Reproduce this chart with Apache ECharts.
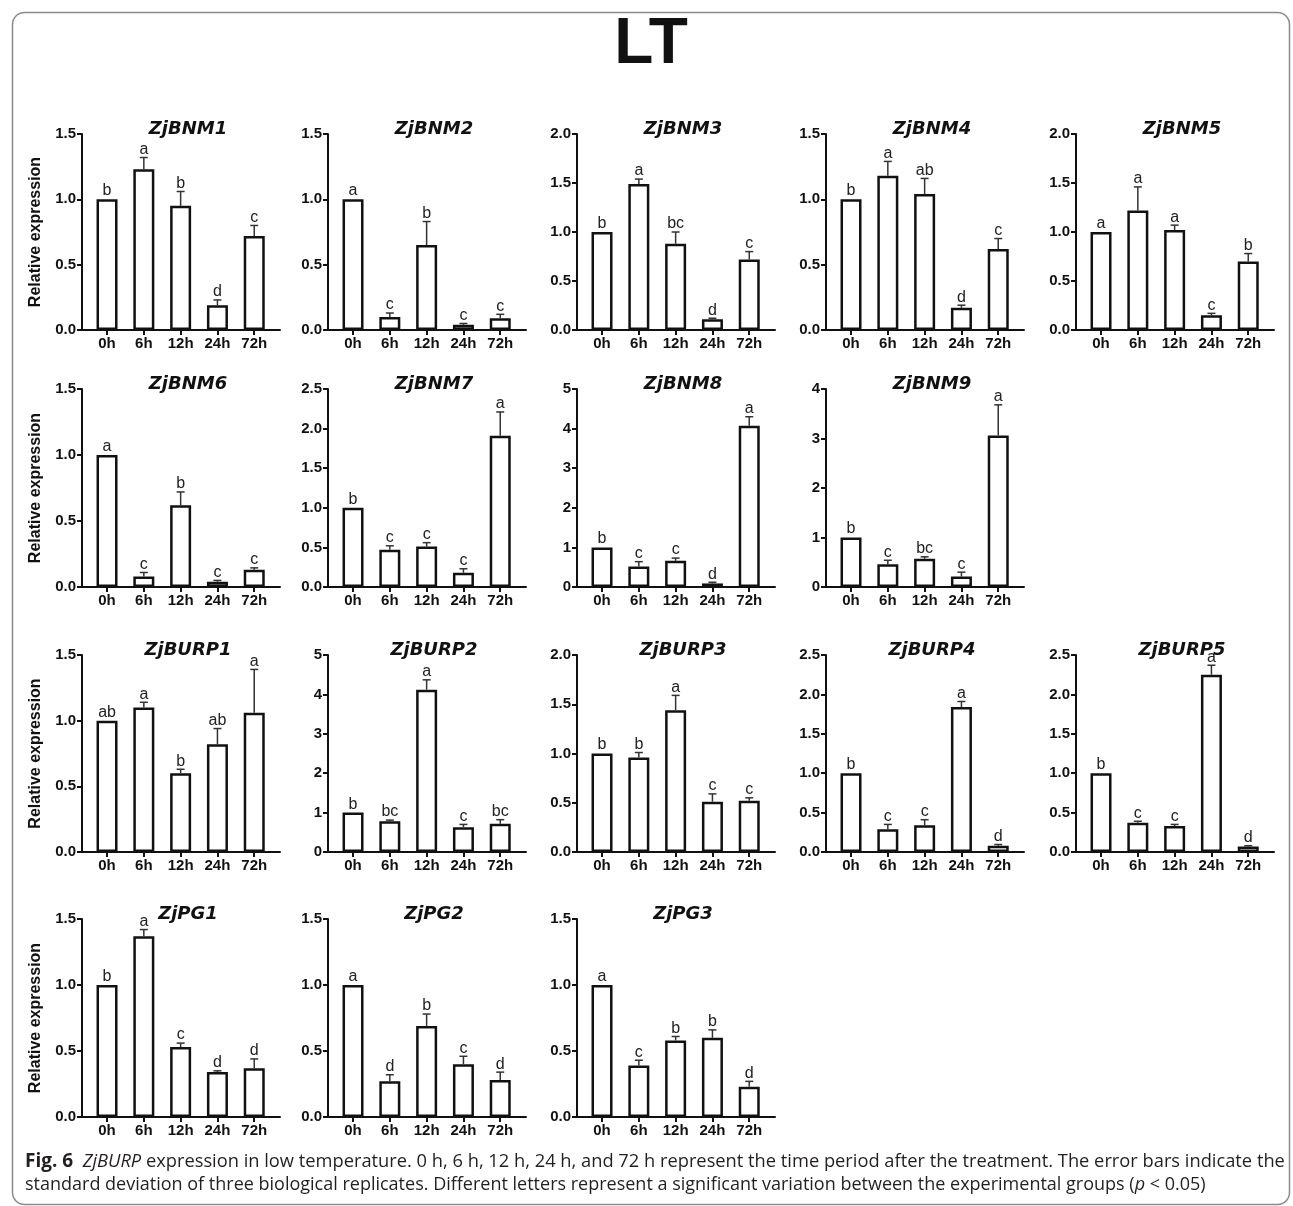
<!DOCTYPE html>
<html><head><meta charset="utf-8">
<script src="https://cdn.jsdelivr.net/npm/echarts@6/dist/echarts.min.js"></script>
<style>html,body{margin:0;padding:0;background:#fff}#c{width:1293px;height:1206px}</style>
</head><body><div id="c"></div>
<script>
// ---------------- DATA ----------------
const categories = ['0h', '6h', '12h', '24h', '72h'];
const genes = ['ZjBNM1','ZjBNM2','ZjBNM3','ZjBNM4','ZjBNM5','ZjBNM6','ZjBNM7','ZjBNM8','ZjBNM9',
               'ZjBURP1','ZjBURP2','ZjBURP3','ZjBURP4','ZjBURP5','ZjPG1','ZjPG2','ZjPG3'];

const mean_ZjBNM1 = [1.00, 1.23, 0.95, 0.19, 0.72];
const sd_ZjBNM1   = [0, 0.09, 0.11, 0.04, 0.08];
const let_ZjBNM1  = ['b', 'a', 'b', 'd', 'c'];

const mean_ZjBNM2 = [1.00, 0.10, 0.65, 0.04, 0.09];
const sd_ZjBNM2   = [0, 0.03, 0.18, 0.01, 0.03];
const let_ZjBNM2  = ['a', 'c', 'b', 'c', 'c'];

const mean_ZjBNM3 = [1.00, 1.49, 0.88, 0.11, 0.72];
const sd_ZjBNM3   = [0, 0.05, 0.12, 0.01, 0.08];
const let_ZjBNM3  = ['b', 'a', 'bc', 'd', 'c'];

const mean_ZjBNM4 = [1.00, 1.18, 1.04, 0.17, 0.62];
const sd_ZjBNM4   = [0, 0.11, 0.12, 0.02, 0.08];
const let_ZjBNM4  = ['b', 'a', 'ab', 'd', 'c'];

const mean_ZjBNM5 = [1.00, 1.22, 1.02, 0.15, 0.70];
const sd_ZjBNM5   = [0, 0.24, 0.05, 0.02, 0.08];
const let_ZjBNM5  = ['a', 'a', 'a', 'c', 'b'];

const mean_ZjBNM6 = [1.00, 0.08, 0.62, 0.04, 0.13];
const sd_ZjBNM6   = [0, 0.03, 0.10, 0.01, 0.015];
const let_ZjBNM6  = ['a', 'c', 'b', 'c', 'c'];

const mean_ZjBNM7 = [1.00, 0.47, 0.51, 0.18, 1.91];
const sd_ZjBNM7   = [0, 0.05, 0.05, 0.05, 0.30];
const let_ZjBNM7  = ['b', 'c', 'c', 'c', 'a'];

const mean_ZjBNM8 = [1.00, 0.52, 0.66, 0.09, 4.07];
const sd_ZjBNM8   = [0, 0.12, 0.07, 0.03, 0.23];
const let_ZjBNM8  = ['b', 'c', 'c', 'd', 'a'];

const mean_ZjBNM9 = [1.00, 0.46, 0.57, 0.21, 3.06];
const sd_ZjBNM9   = [0, 0.08, 0.04, 0.09, 0.62];
const let_ZjBNM9  = ['b', 'c', 'bc', 'c', 'a'];

const mean_ZjBURP1 = [1.00, 1.10, 0.60, 0.82, 1.06];
const sd_ZjBURP1   = [0, 0.04, 0.03, 0.12, 0.33];
const let_ZjBURP1  = ['ab', 'a', 'b', 'ab', 'a'];

const mean_ZjBURP2 = [1.00, 0.78, 4.12, 0.63, 0.72];
const sd_ZjBURP2   = [0, 0.03, 0.25, 0.07, 0.10];
const let_ZjBURP2  = ['b', 'bc', 'a', 'c', 'bc'];

const mean_ZjBURP3 = [1.00, 0.96, 1.44, 0.51, 0.52];
const sd_ZjBURP3   = [0, 0.05, 0.15, 0.08, 0.03];
const let_ZjBURP3  = ['b', 'b', 'a', 'c', 'c'];

const mean_ZjBURP4 = [1.00, 0.29, 0.34, 1.84, 0.08];
const sd_ZjBURP4   = [0, 0.06, 0.07, 0.07, 0.015];
const let_ZjBURP4  = ['b', 'c', 'c', 'a', 'd'];

const mean_ZjBURP5 = [1.00, 0.37, 0.33, 2.25, 0.07];
const sd_ZjBURP5   = [0, 0.02, 0.02, 0.12, 0.01];
const let_ZjBURP5  = ['b', 'c', 'c', 'a', 'd'];

const mean_ZjPG1 = [1.00, 1.37, 0.53, 0.34, 0.37];
const sd_ZjPG1   = [0, 0.05, 0.03, 0.01, 0.07];
const let_ZjPG1  = ['b', 'a', 'c', 'd', 'd'];

const mean_ZjPG2 = [1.00, 0.27, 0.69, 0.40, 0.28];
const sd_ZjPG2   = [0, 0.05, 0.09, 0.06, 0.06];
const let_ZjPG2  = ['a', 'd', 'b', 'c', 'd'];

const mean_ZjPG3 = [1.00, 0.39, 0.58, 0.60, 0.23];
const sd_ZjPG3   = [0, 0.04, 0.03, 0.06, 0.04];
const let_ZjPG3  = ['a', 'c', 'b', 'b', 'd'];

// y-axis tick range per panel (same order as genes)
const yMax  = [1.5, 1.5, 2.0, 1.5, 2.0,  1.5, 2.5, 5, 4,  1.5, 5, 2.0, 2.5, 2.5,  1.5, 1.5, 1.5];
const yStep = [0.5, 0.5, 0.5, 0.5, 0.5,  0.5, 0.5, 1, 1,  0.5, 1, 0.5, 0.5, 0.5,  0.5, 0.5, 0.5];

const mainTitle = 'LT';
const yName = 'Relative expression';

// ---------------- LAYOUT ----------------
const geneData = {
  ZjBNM1: [mean_ZjBNM1, sd_ZjBNM1, let_ZjBNM1], ZjBNM2: [mean_ZjBNM2, sd_ZjBNM2, let_ZjBNM2],
  ZjBNM3: [mean_ZjBNM3, sd_ZjBNM3, let_ZjBNM3], ZjBNM4: [mean_ZjBNM4, sd_ZjBNM4, let_ZjBNM4],
  ZjBNM5: [mean_ZjBNM5, sd_ZjBNM5, let_ZjBNM5], ZjBNM6: [mean_ZjBNM6, sd_ZjBNM6, let_ZjBNM6],
  ZjBNM7: [mean_ZjBNM7, sd_ZjBNM7, let_ZjBNM7], ZjBNM8: [mean_ZjBNM8, sd_ZjBNM8, let_ZjBNM8],
  ZjBNM9: [mean_ZjBNM9, sd_ZjBNM9, let_ZjBNM9], ZjBURP1: [mean_ZjBURP1, sd_ZjBURP1, let_ZjBURP1],
  ZjBURP2: [mean_ZjBURP2, sd_ZjBURP2, let_ZjBURP2], ZjBURP3: [mean_ZjBURP3, sd_ZjBURP3, let_ZjBURP3],
  ZjBURP4: [mean_ZjBURP4, sd_ZjBURP4, let_ZjBURP4], ZjBURP5: [mean_ZjBURP5, sd_ZjBURP5, let_ZjBURP5],
  ZjPG1: [mean_ZjPG1, sd_ZjPG1, let_ZjPG1], ZjPG2: [mean_ZjPG2, sd_ZjPG2, let_ZjPG2],
  ZjPG3: [mean_ZjPG3, sd_ZjPG3, let_ZjPG3]
};
const rowsLayout = [[0,1,2,3,4],[5,6,7,8],[9,10,11,12,13],[14,15,16]];
const colX = [82, 328, 577, 826, 1076];
const rowTop = [134, 389, 655, 919];
const rowZero = [330, 587, 852, 1117];
const plotW = 198;
const INK = '#111';
const TICKFONT = '"Liberation Sans", Arial, Helvetica, sans-serif';
const idx = categories.map((c, i) => i);

const grid = [], xAxis = [], yAxis = [], series = [];
const title = [{
  text: mainTitle, left: 651, top: 12, textAlign: 'center', padding: 0,
  textStyle: { fontFamily: TICKFONT, fontWeight: 'bold', fontSize: 64, color: INK, lineHeight: 66 }
}];

rowsLayout.forEach((row, r) => {
  row.forEach((gi, c) => {
    const g = genes[gi];
    const [mean, sd, lets] = geneData[g];
    const k = grid.length;
    grid.push({ left: colX[c], top: rowTop[r], width: plotW, height: rowZero[r] - rowTop[r], containLabel: false });
    xAxis.push({
      type: 'value', gridIndex: k, min: -0.68, max: 4.70,
      axisLine: { show: true, onZero: false, lineStyle: { color: INK, width: 2 } },
      axisTick: { show: true, customValues: idx, length: 5, lineStyle: { color: INK, width: 2 } },
      axisLabel: { show: true, customValues: idx, formatter: v => categories[Math.round(v)], margin: 6,
                   fontFamily: TICKFONT, fontWeight: 'bold', fontSize: 15, color: INK },
      splitLine: { show: false }
    });
    const step = yStep[gi];
    const ya = {
      type: 'value', gridIndex: k, min: 0, max: yMax[gi], interval: step,
      axisLine: { show: true, onZero: false, lineStyle: { color: INK, width: 2 } },
      axisTick: { show: true, length: 5, lineStyle: { color: INK, width: 2 } },
      axisLabel: { formatter: v => step < 1 ? v.toFixed(1) : String(v), margin: 6,
                   fontFamily: TICKFONT, fontWeight: 'bold', fontSize: 15, color: INK },
      splitLine: { show: false }
    };
    if (c === 0) {
      ya.name = yName; ya.nameLocation = 'middle'; ya.nameGap = 38;
      ya.nameTextStyle = { fontFamily: TICKFONT, fontWeight: 'bold', fontSize: 16, color: INK };
    }
    yAxis.push(ya);
    title.push({
      text: g, left: colX[c] + 106, top: rowTop[r] - 15, textAlign: 'center', padding: 0,
      textStyle: { fontFamily: '"DejaVu Sans", sans-serif', fontWeight: 'bold', fontStyle: 'italic',
                   fontSize: 18, lineHeight: 20, color: INK }
    });
    series.push({
      type: 'bar', xAxisIndex: k, yAxisIndex: k, barWidth: 21, silent: true,
      data: mean.map((v, i) => [i, v]),
      itemStyle: { color: '#fff', borderColor: INK, borderWidth: 2.5 }
    });
    series.push({
      type: 'custom', xAxisIndex: k, yAxisIndex: k, silent: true, z: 5,
      dimensions: ['x', 'mean', 'sd'], encode: { x: 0, y: 1 },
      data: mean.map((v, i) => [i, v, sd[i]]),
      renderItem: (params, api) => {
        const x = api.value(0), v = api.value(1), s = api.value(2);
        const pb = api.coord([x, v]);
        const pt = api.coord([x, v + s]);
        const children = [];
        if (s > 0) {
          children.push({ type: 'line', shape: { x1: pb[0], y1: pb[1], x2: pt[0], y2: pt[1] },
                          style: { stroke: '#333', lineWidth: 1.5 } });
          children.push({ type: 'line', shape: { x1: pt[0] - 4, y1: pt[1], x2: pt[0] + 4, y2: pt[1] },
                          style: { stroke: '#333', lineWidth: 1.5 } });
        }
        children.push({ type: 'text', x: pt[0], y: pt[1] + (s > 0 ? 0 : -0.5),
          style: { text: lets[params.dataIndex], textAlign: 'center', textVerticalAlign: 'bottom',
                   fontFamily: TICKFONT, fontSize: 16, fill: '#222' } });
        return { type: 'group', children };
      }
    });
  });
});

const capFont = '"Open Sans", "Noto Sans", sans-serif';
const graphic = [
  { type: 'rect', left: 10, top: 10, z: -10, silent: true,
    shape: { width: 1277, height: 1192, r: 12 },
    style: { fill: 'none', stroke: '#8a8a8a', lineWidth: 1.5 } },
  { type: 'text', left: 25, top: 1152, silent: true,
    style: { text: '{b|Fig. 6}  {i|ZjBURP} expression in low temperature. 0 h, 6 h, 12 h, 24 h, and 72 h represent the time period after the treatment. The error bars indicate the',
             fontFamily: capFont, fontSize: 18.3, fill: '#231f20',
             rich: { b: { fontFamily: capFont, fontWeight: 'bold', fontSize: 19, fill: '#231f20' },
                     i: { fontFamily: capFont, fontStyle: 'italic', fontSize: 18.3, fill: '#231f20' } } } },
  { type: 'text', left: 25, top: 1176, silent: true,
    style: { text: 'standard deviation of three biological replicates. Different letters represent a significant variation between the experimental groups ({i|p} < 0.05)',
             fontFamily: capFont, fontSize: 18, fill: '#231f20',
             rich: { i: { fontFamily: capFont, fontStyle: 'italic', fontSize: 18, fill: '#231f20' } } } }
];

const chart = echarts.init(document.getElementById('c'), null, { renderer: 'canvas' });
chart.setOption({ animation: false, backgroundColor: '#fff', title, grid, xAxis, yAxis, series, graphic });
</script>
</body></html>
